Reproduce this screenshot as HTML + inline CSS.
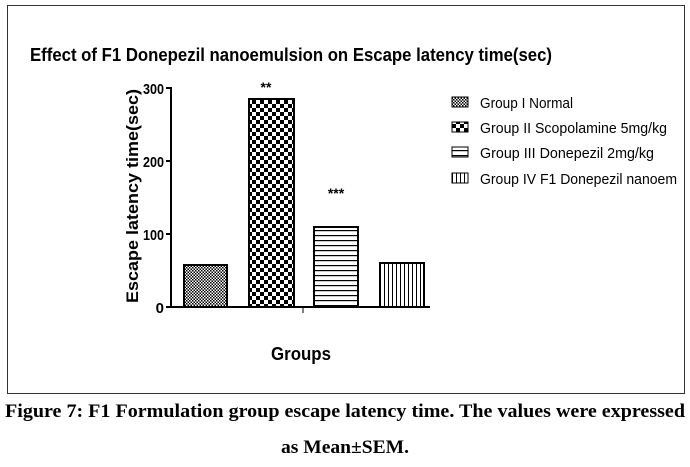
<!DOCTYPE html>
<html><head><style>
body{margin:0;background:#fff;width:690px;height:467px;overflow:hidden;position:relative;font-family:"Liberation Sans",sans-serif}
</style></head><body>
<div style="position:absolute;left:7px;top:5px;width:676px;height:387px;border:1px solid #333"></div>
<svg width="690" height="467" style="position:absolute;left:0;top:0">
<defs>
<pattern id="p1" width="3" height="3" patternUnits="userSpaceOnUse"><rect width="3" height="3" fill="#fff"/><rect width="1.5" height="1.5" fill="#000"/><rect x="1.5" y="1.5" width="1.5" height="1.5" fill="#000"/></pattern>
<pattern id="p2" width="8" height="8" patternUnits="userSpaceOnUse"><rect width="8" height="8" fill="#fff"/><rect width="4" height="4" fill="#000"/><rect x="4" y="4" width="4" height="4" fill="#000"/></pattern>
<pattern id="p3" width="5" height="5" patternUnits="userSpaceOnUse"><rect width="5" height="5" fill="#fff"/><rect width="5" height="1.2" fill="#000"/></pattern>
<pattern id="p4" width="4" height="4" patternUnits="userSpaceOnUse"><rect width="4" height="4" fill="#fff"/><rect width="1" height="4" fill="#000"/></pattern>
</defs>
<g stroke="#000" stroke-width="2">
<rect x="184" y="265" width="43" height="42" fill="url(#p1)"/>
<rect x="249" y="99" width="45" height="208" fill="url(#p2)"/>
<rect x="314" y="227" width="44" height="80" fill="url(#p3)"/>
<rect x="380" y="263" width="44" height="44" fill="url(#p4)"/>
<line x1="171" y1="87" x2="171" y2="308"/>
<line x1="170" y1="307" x2="430" y2="307"/>
<line x1="166" y1="88" x2="171" y2="88"/>
<line x1="166" y1="161" x2="171" y2="161"/>
<line x1="166" y1="234" x2="171" y2="234"/>
<line x1="166" y1="307" x2="171" y2="307"/>
<line x1="303" y1="307" x2="303" y2="313" stroke-width="1"/>
</g>
<g stroke="#000" stroke-width="1">
<rect x="452" y="97" width="16" height="10" fill="url(#p1)"/>
<rect x="452" y="122" width="16" height="10" fill="url(#p2)"/>
<rect x="452" y="147" width="16" height="10" fill="url(#p3)"/>
<rect x="452" y="173" width="16" height="10" fill="url(#p4)"/>
</g>
<g font-family="Liberation Sans" font-weight="bold" font-size="15" text-anchor="end">
<text x="164" y="94" textLength="21" lengthAdjust="spacingAndGlyphs">300</text><text x="164" y="167" textLength="21" lengthAdjust="spacingAndGlyphs">200</text><text x="164" y="240" textLength="21" lengthAdjust="spacingAndGlyphs">100</text><text x="164" y="313">0</text>
</g>
<text x="266" y="92" font-size="14" text-anchor="middle" font-weight="bold">**</text>
<text x="336" y="198" font-size="14" text-anchor="middle" font-weight="bold">***</text>
<text transform="translate(138,196) rotate(-90)" font-size="17" font-weight="bold" text-anchor="middle" textLength="214" lengthAdjust="spacingAndGlyphs">Escape latency time(sec)</text>
<text x="301" y="360" font-size="18" font-weight="bold" text-anchor="middle" textLength="60" lengthAdjust="spacingAndGlyphs">Groups</text>
<text x="30" y="61" font-size="18" font-weight="bold" textLength="522" lengthAdjust="spacingAndGlyphs">Effect of F1 Donepezil nanoemulsion on Escape latency time(sec)</text>
<g font-size="15">
<text x="480" y="108" textLength="93" lengthAdjust="spacingAndGlyphs">Group I Normal</text>
<text x="480" y="133" textLength="187" lengthAdjust="spacingAndGlyphs">Group II Scopolamine 5mg/kg</text>
<text x="480" y="158" textLength="174" lengthAdjust="spacingAndGlyphs">Group III Donepezil 2mg/kg</text>
<text x="480" y="184" textLength="197" lengthAdjust="spacingAndGlyphs">Group IV F1 Donepezil nanoem</text>
</g>
<g font-family="Liberation Serif" font-weight="bold" font-size="19">
<text x="5" y="417" textLength="680" lengthAdjust="spacingAndGlyphs">Figure  7: F1 Formulation  group  escape latency time. The values were expressed</text>
<text x="345" y="453" text-anchor="middle" textLength="128" lengthAdjust="spacingAndGlyphs">as Mean±SEM.</text>
</g>
</svg>
</body></html>
